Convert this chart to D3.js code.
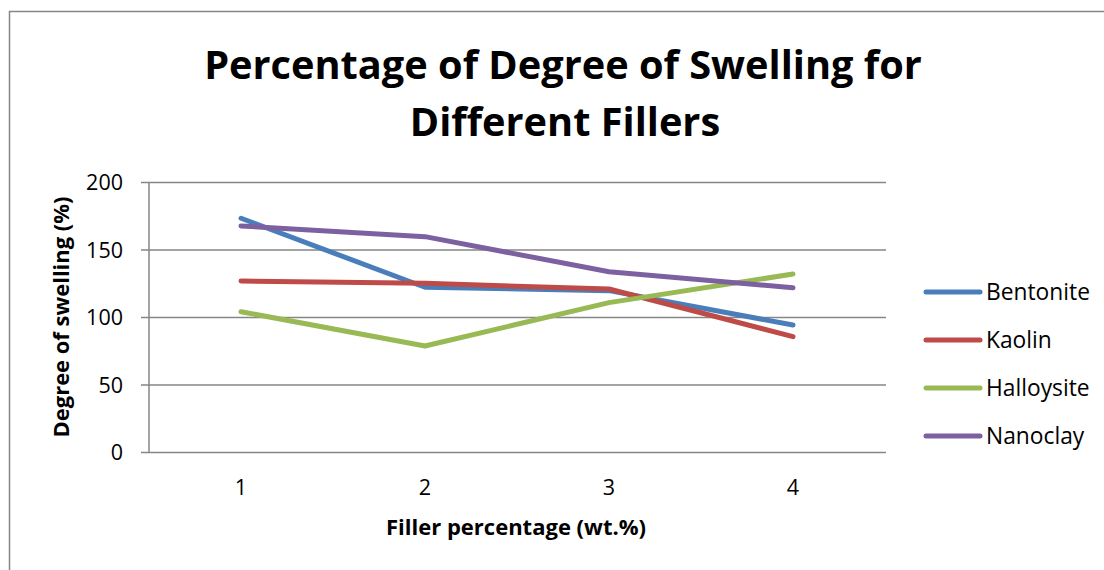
<!DOCTYPE html>
<html>
<head>
<meta charset="utf-8">
<script src="https://cdn.jsdelivr.net/npm/d3@7"></script>
<style>
  html, body { margin: 0; padding: 0; background: #fff; }
  svg { display: block; }
  text { font-family: "Open Sans", Lato, sans-serif; fill: #000; }
</style>
</head>
<body>
<svg id="chart" width="1104" height="570"></svg>
<script>
const categories = ["1", "2", "3", "4"];
const seriesNames = ["Bentonite", "Kaolin", "Halloysite", "Nanoclay"];
const bentonite = [173.5, 122.4, 119.9, 94.4];
const kaolin = [127, 125.3, 121.1, 85.8];
const halloysite = [104.3, 78.9, 111, 132.2];
const nanoclay = [167.8, 159.9, 133.9, 122];
const yTicks = [0, 50, 100, 150, 200];
const colors = ["#4A7EBB", "#BE4B48", "#98B954", "#7D60A0"];
const titleLines = ["Percentage of Degree of Swelling for", "Different Fillers"];
const xTitle = "Filler percentage (wt.%)";
const yTitle = "Degree of swelling (%)";

const series = [bentonite, kaolin, halloysite, nanoclay];
const svg = d3.select("#chart");
const gridColor = "#868686";

// outer chart border
svg.append("rect").attr("x", 9.5).attr("y", 11.5).attr("width", 1200).attr("height", 700)
  .attr("fill", "none").attr("stroke", gridColor).attr("stroke-width", 1.5);

const x = d3.scalePoint().domain(categories).range([149, 885]).padding(0.5);
const y = d3.scaleLinear().domain([0, 200]).range([452.5, 182.5]);

function fit(sel, target) {
  const w = sel.node().getComputedTextLength();
  const fs = parseFloat(sel.attr("font-size"));
  sel.attr("font-size", fs * target / w);
}

// gridlines
svg.append("g").selectAll("line").data(yTicks).join("line")
  .attr("x1", 141).attr("x2", 886)
  .attr("y1", d => y(d)).attr("y2", d => y(d))
  .attr("stroke", gridColor).attr("stroke-width", 1.5);

// y axis line
svg.append("line").attr("x1", 149).attr("x2", 149)
  .attr("y1", y(200)).attr("y2", y(0))
  .attr("stroke", gridColor).attr("stroke-width", 1.5);

// y tick labels
svg.append("g").selectAll("text").data(yTicks).join("text")
  .attr("x", 123).attr("y", d => y(d)).attr("dy", "0.36em")
  .attr("text-anchor", "end").attr("font-size", 21.5).text(d => d);

// x tick labels
svg.append("g").selectAll("text").data(categories).join("text")
  .attr("x", d => x(d)).attr("y", 495)
  .attr("text-anchor", "middle").attr("font-size", 21.5).text(d => d);

// lines
const line = d3.line().x((d, i) => x(categories[i])).y(d => y(d));
svg.append("g").selectAll("path").data(series).join("path")
  .attr("d", d => line(d)).attr("fill", "none")
  .attr("stroke", (d, i) => colors[i]).attr("stroke-width", 5)
  .attr("stroke-linecap", "round").attr("stroke-linejoin", "round");

// title
const t1 = svg.append("text").attr("x", 563).attr("y", 79).attr("text-anchor", "middle")
  .attr("font-weight", "bold").attr("font-size", 36).text(titleLines[0]);
fit(t1, 718);
svg.append("text").attr("x", 565).attr("y", 136).attr("text-anchor", "middle")
  .attr("font-weight", "bold").attr("font-size", t1.attr("font-size")).text(titleLines[1]);

// axis titles
const xt = svg.append("text").attr("x", 516).attr("y", 535).attr("text-anchor", "middle")
  .attr("font-weight", "bold").attr("font-size", 18).text(xTitle);
fit(xt, 260);
const yt = svg.append("text").attr("transform", "translate(69,317) rotate(-90)")
  .attr("text-anchor", "middle").attr("font-weight", "bold").attr("font-size", 18).text(yTitle);
fit(yt, 241);

// legend
const legY = d3.scalePoint().domain(seriesNames).range([292, 436]);
const leg = svg.append("g").selectAll("g").data(seriesNames).join("g")
  .attr("transform", d => `translate(0,${legY(d)})`);
leg.append("line").attr("x1", 926).attr("x2", 980).attr("y1", 0).attr("y2", 0)
  .attr("stroke", (d, i) => colors[i]).attr("stroke-width", 5).attr("stroke-linecap", "round");
const legText = leg.append("text").attr("x", 986).attr("y", 0).attr("dy", "0.36em")
  .attr("font-size", 20).text(d => d);
fit(d3.select(legText.nodes()[0]), 104);
legText.attr("font-size", d3.select(legText.nodes()[0]).attr("font-size"));
</script>
</body>
</html>
